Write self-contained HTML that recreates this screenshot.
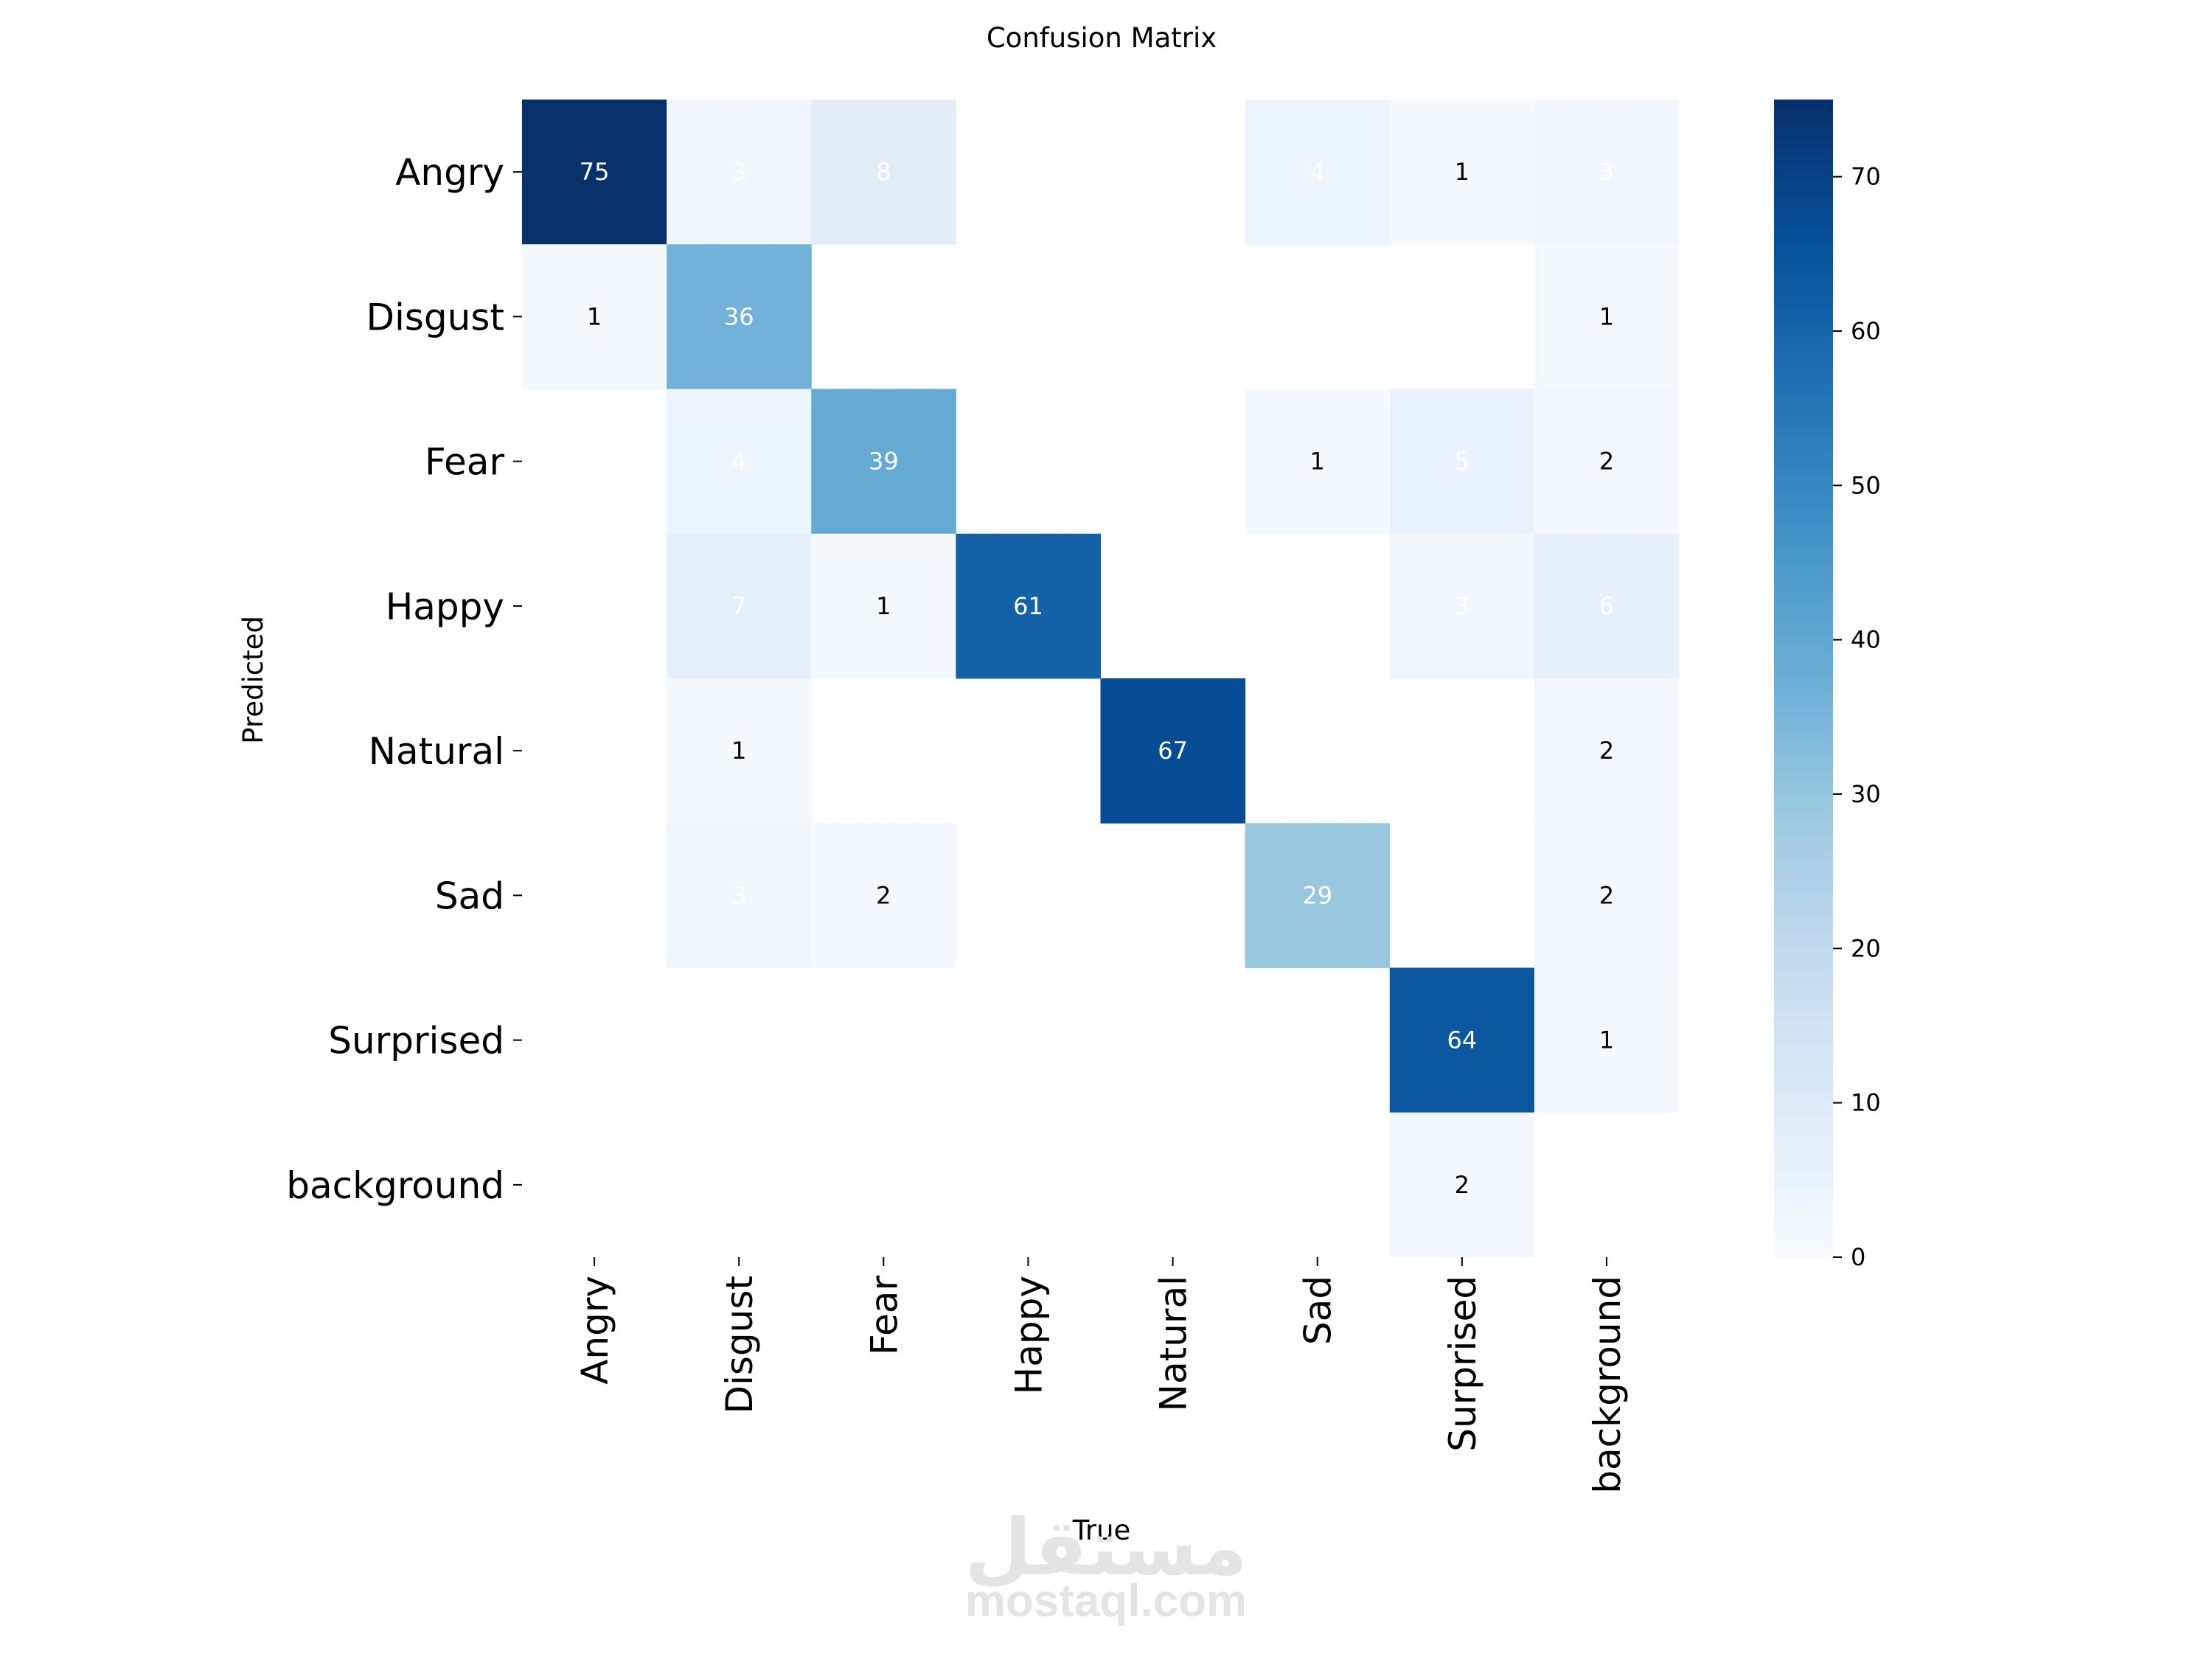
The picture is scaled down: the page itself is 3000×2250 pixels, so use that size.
<!DOCTYPE html>
<html><head><meta charset="utf-8"><style>
html,body{margin:0;padding:0;background:#fff;}
svg{display:block;font-family:"DejaVu Sans","Liberation Sans",sans-serif;}
</style></head><body>
<svg id="chart" width="3000" height="2250" viewBox="0 0 3000 2250" xmlns="http://www.w3.org/2000/svg">
<text x="1494" y="64" font-size="37" text-anchor="middle">Confusion Matrix</text>
<text x="1494" y="2110" font-size="37" text-anchor="middle" transform="translate(0,-22)">True</text>
<text x="0" y="0" font-size="37" text-anchor="middle" transform="translate(356,922) rotate(-90)">Predicted</text>
<g fill="#e4e4e4">
<text x="1500" y="2135" font-size="105" font-weight="bold" text-anchor="middle">مستقل</text>
<text x="1500" y="2192" font-size="62" font-weight="bold" text-anchor="middle" font-family="Liberation Sans, sans-serif">mostaql.com</text>
</g>
<g id="cells"></g>
<g id="axes"></g>
<defs><linearGradient id="blues" x1="0" y1="1" x2="0" y2="0">
<stop offset="0" stop-color="#f7fbff"/><stop offset="0.125" stop-color="#deebf7"/><stop offset="0.25" stop-color="#c6dbef"/><stop offset="0.375" stop-color="#9ecae1"/><stop offset="0.5" stop-color="#6baed6"/><stop offset="0.625" stop-color="#4292c6"/><stop offset="0.75" stop-color="#2171b5"/><stop offset="0.875" stop-color="#08519c"/><stop offset="1" stop-color="#08306b"/>
</linearGradient></defs>
<g id="cbar"></g>
</svg>
<script>
const predictedLabels = ["Angry","Disgust","Fear","Happy","Natural","Sad","Surprised","background"];
const trueLabels = ["Angry","Disgust","Fear","Happy","Natural","Sad","Surprised","background"];
const rowAngry = [75,3,8,0,0,4,1,3];
const rowDisgust = [1,36,0,0,0,0,0,1];
const rowFear = [0,4,39,0,0,1,5,2];
const rowHappy = [0,7,1,61,0,0,3,6];
const rowNatural = [0,1,0,0,67,0,0,2];
const rowSad = [0,3,2,0,0,29,0,2];
const rowSurprised = [0,0,0,0,0,0,64,1];
const rowBackground = [0,0,0,0,0,0,2,0];
const matrix = [rowAngry,rowDisgust,rowFear,rowHappy,rowNatural,rowSad,rowSurprised,rowBackground];
const colorbarTicks = [0,10,20,30,40,50,60,70];
const vmax = 75;

const NS="http://www.w3.org/2000/svg";
const L=708,T=135,R=2277,B=1705;
const cw=(R-L)/trueLabels.length, ch=(B-T)/predictedLabels.length;
const xPos=i=>L+i*cw, yPos=j=>T+j*ch;
const stops=[[0,[247,251,255]],[0.125,[222,235,247]],[0.25,[198,219,239]],[0.375,[158,202,225]],[0.5,[107,174,214]],[0.625,[66,146,198]],[0.75,[33,113,181]],[0.875,[8,81,156]],[1,[8,48,107]]];
function blues(v){let t=Math.max(0,Math.min(1,v/vmax));for(let k=1;k<stops.length;k++){if(t<=stops[k][0]){const a=stops[k-1],b=stops[k];const f=(t-a[0])/(b[0]-a[0]);const c=a[1].map((x,i)=>Math.round(x+(b[1][i]-x)*f));return `rgb(${c.join(',')})`;}}return 'rgb(8,48,107)';}
function mk(tag,attrs,parent){const e=document.createElementNS(NS,tag);for(const k in attrs)e.setAttribute(k,attrs[k]);parent.appendChild(e);return e;}
const cells=document.getElementById('cells');
matrix.forEach((row,j)=>row.forEach((v,i)=>{
  if(v===0) return;
  const r=mk('rect',{x:xPos(i),y:yPos(j),width:cw+0.5,height:ch+0.5,fill:blues(v)},cells);
  
  
  const t=mk('text',{x:xPos(i)+cw/2,y:yPos(j)+ch/2+11,'font-size':32,'text-anchor':'middle',fill:v>=3?'#fff':'#000'},cells);
  
  
  t.textContent=v;
}));
const axes=document.getElementById('axes');
predictedLabels.forEach((lab,j)=>{
  const cy=yPos(j)+ch/2;
  const tk=mk('line',{x1:L-12,x2:L,y1:cy,y2:cy,stroke:'#000','stroke-width':2},axes);
  
  
  const t=mk('text',{x:L-24,y:cy+18,'font-size':50,'text-anchor':'end'},axes);
  
  
  t.textContent=lab;
});
trueLabels.forEach((lab,i)=>{
  const cx=xPos(i)+cw/2;
  const tk=mk('line',{x1:cx,x2:cx,y1:B,y2:B+12,stroke:'#000','stroke-width':2},axes);
  
  
  const t=mk('text',{x:0,y:0,'font-size':50,'text-anchor':'end',transform:`translate(${cx+18},${B+25}) rotate(-90)`},axes);
  
  
  t.textContent=lab;
});
const cb=document.getElementById('cbar');
const CL=2406,CR=2486;
const cbY=v=>B-(v/vmax)*(B-T);
const bar=mk('rect',{x:CL,y:T,width:CR-CL,height:B-T,fill:'url(#blues)'},cb);


colorbarTicks.forEach(v=>{
  const y=cbY(v);
  const tk=mk('line',{x1:CR,x2:CR+12,y1:y,y2:y,stroke:'#000','stroke-width':2},cb);
  
  
  const t=mk('text',{x:CR+24,y:y+11,'font-size':32},cb);
  
  
  t.textContent=v;
});
</script>
</body></html>
